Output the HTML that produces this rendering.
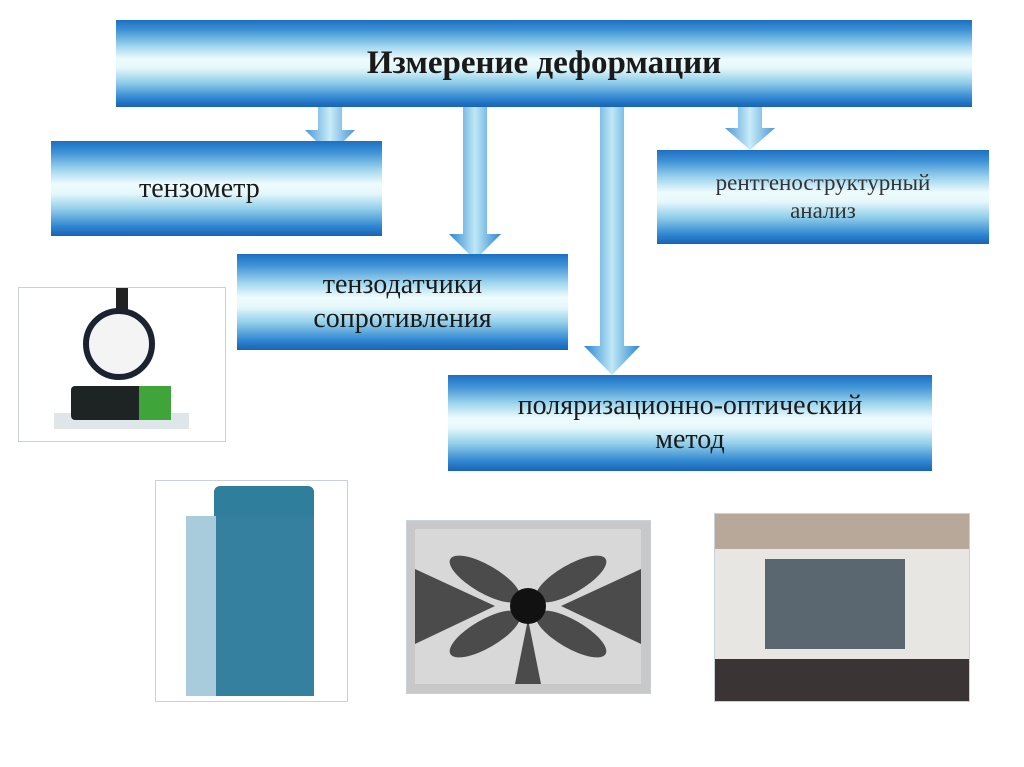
<!DOCTYPE html>
<html><head><meta charset="utf-8"><style>
body{margin:0;width:1024px;height:767px;background:#fff;position:relative;overflow:hidden;font-family:"Liberation Serif","DejaVu Serif",serif}
.b{position:absolute;background:linear-gradient(to bottom,#1d6fc2 0%,#3f93d6 12%,#9fd6ee 30%,#eefbfd 45%,#e6f8fb 55%,#8fcdea 72%,#2f86d0 90%,#1862b5 100%);display:flex;align-items:center;justify-content:center;text-align:center;color:#1a1a1a;line-height:1.2}
.a{position:absolute}
.img{position:absolute;border:1px solid #c8d0d8;background:#fff;overflow:hidden}
</style></head><body>
<svg class="a" style="left:0;top:0" width="1024" height="767">
<defs><linearGradient id="g" x1="0" y1="0" x2="1" y2="0"><stop offset="0" stop-color="#2a86d2"/><stop offset=".5" stop-color="#bfe8f5"/><stop offset="1" stop-color="#2a86d2"/></linearGradient></defs>
<path d="M318 100h24v30h13l-25 25-25-25h13z" fill="url(#g)" opacity=".85"/>
<path d="M463 100h24v134h14l-26 26-26-26h14z" fill="url(#g)"/>
<path d="M600 100h24v246h16l-28 29-28-29h16z" fill="url(#g)"/>
<path d="M738 100h24v28h13l-25 22-25-22h13z" fill="url(#g)" opacity=".85"/>
</svg>
<div class="b" style="left:116px;top:20px;width:856px;height:87px;font-weight:bold;font-size:33px">Измерение деформации</div>
<div class="b" style="left:51px;top:141px;width:331px;height:95px;font-size:28px;justify-content:flex-start;padding-left:88px;box-sizing:border-box">тензометр</div>
<div class="b" style="left:237px;top:254px;width:331px;height:96px;font-size:28px">тензодатчики<br>сопротивления</div>
<div class="b" style="left:448px;top:375px;width:484px;height:96px;font-size:28px">поляризационно-оптический<br>метод</div>
<div class="b" style="left:657px;top:150px;width:332px;height:94px;font-size:23px;color:#333">рентгеноструктурный<br>анализ</div>

<div class="img" style="left:18px;top:287px;width:206px;height:153px">
<div class="a" style="left:35px;top:125px;width:135px;height:16px;background:#dfe6ea"></div>
<div class="a" style="left:52px;top:98px;width:100px;height:34px;background:#1e2424;border-radius:4px"></div>
<div class="a" style="left:120px;top:98px;width:32px;height:34px;background:#3fa43a"></div>
<div class="a" style="left:97px;top:0;width:12px;height:24px;background:#222"></div>
<div class="a" style="left:64px;top:20px;width:72px;height:72px;border-radius:50%;background:#f4f4f4;border:6px solid #1b2330;box-sizing:border-box"></div>
</div>
<div class="img" style="left:155px;top:480px;width:191px;height:220px">
<div class="a" style="left:58px;top:5px;width:100px;height:207px;background:#2f7e9c;border-radius:6px"></div>
<div class="a" style="left:30px;top:35px;width:55px;height:180px;background:#a9ccdc"></div>
<div class="a" style="left:60px;top:35px;width:98px;height:180px;background:#35809e"></div>
</div>
<div class="img" style="left:406px;top:520px;width:243px;height:172px;background:#c8c8c8">
<div class="a" style="left:8px;top:8px;width:226px;height:155px;background:#d8d8d8"></div>
<svg class="a" style="left:8px;top:8px" width="226" height="155">
<g fill="#333" opacity=".85">
<ellipse cx="70" cy="50" rx="40" ry="14" transform="rotate(30 70 50)"/>
<ellipse cx="156" cy="50" rx="40" ry="14" transform="rotate(-30 156 50)"/>
<ellipse cx="70" cy="105" rx="40" ry="14" transform="rotate(-30 70 105)"/>
<ellipse cx="156" cy="105" rx="40" ry="14" transform="rotate(30 156 105)"/>
<path d="M0 40 L80 77 L0 115z"/><path d="M226 40 L146 77 L226 115z"/>
<path d="M100 155 L113 90 L126 155z"/>
</g>
<circle cx="113" cy="77" r="18" fill="#111"/>
</svg>
</div>
<div class="img" style="left:714px;top:513px;width:254px;height:187px;background:#b8a89a">
<div class="a" style="left:0;top:35px;width:254px;height:110px;background:#e8e6e2"></div>
<div class="a" style="left:50px;top:45px;width:140px;height:90px;background:#5a6670"></div>
<div class="a" style="left:0;top:145px;width:254px;height:42px;background:#3a3434"></div>
</div>
</body></html>
